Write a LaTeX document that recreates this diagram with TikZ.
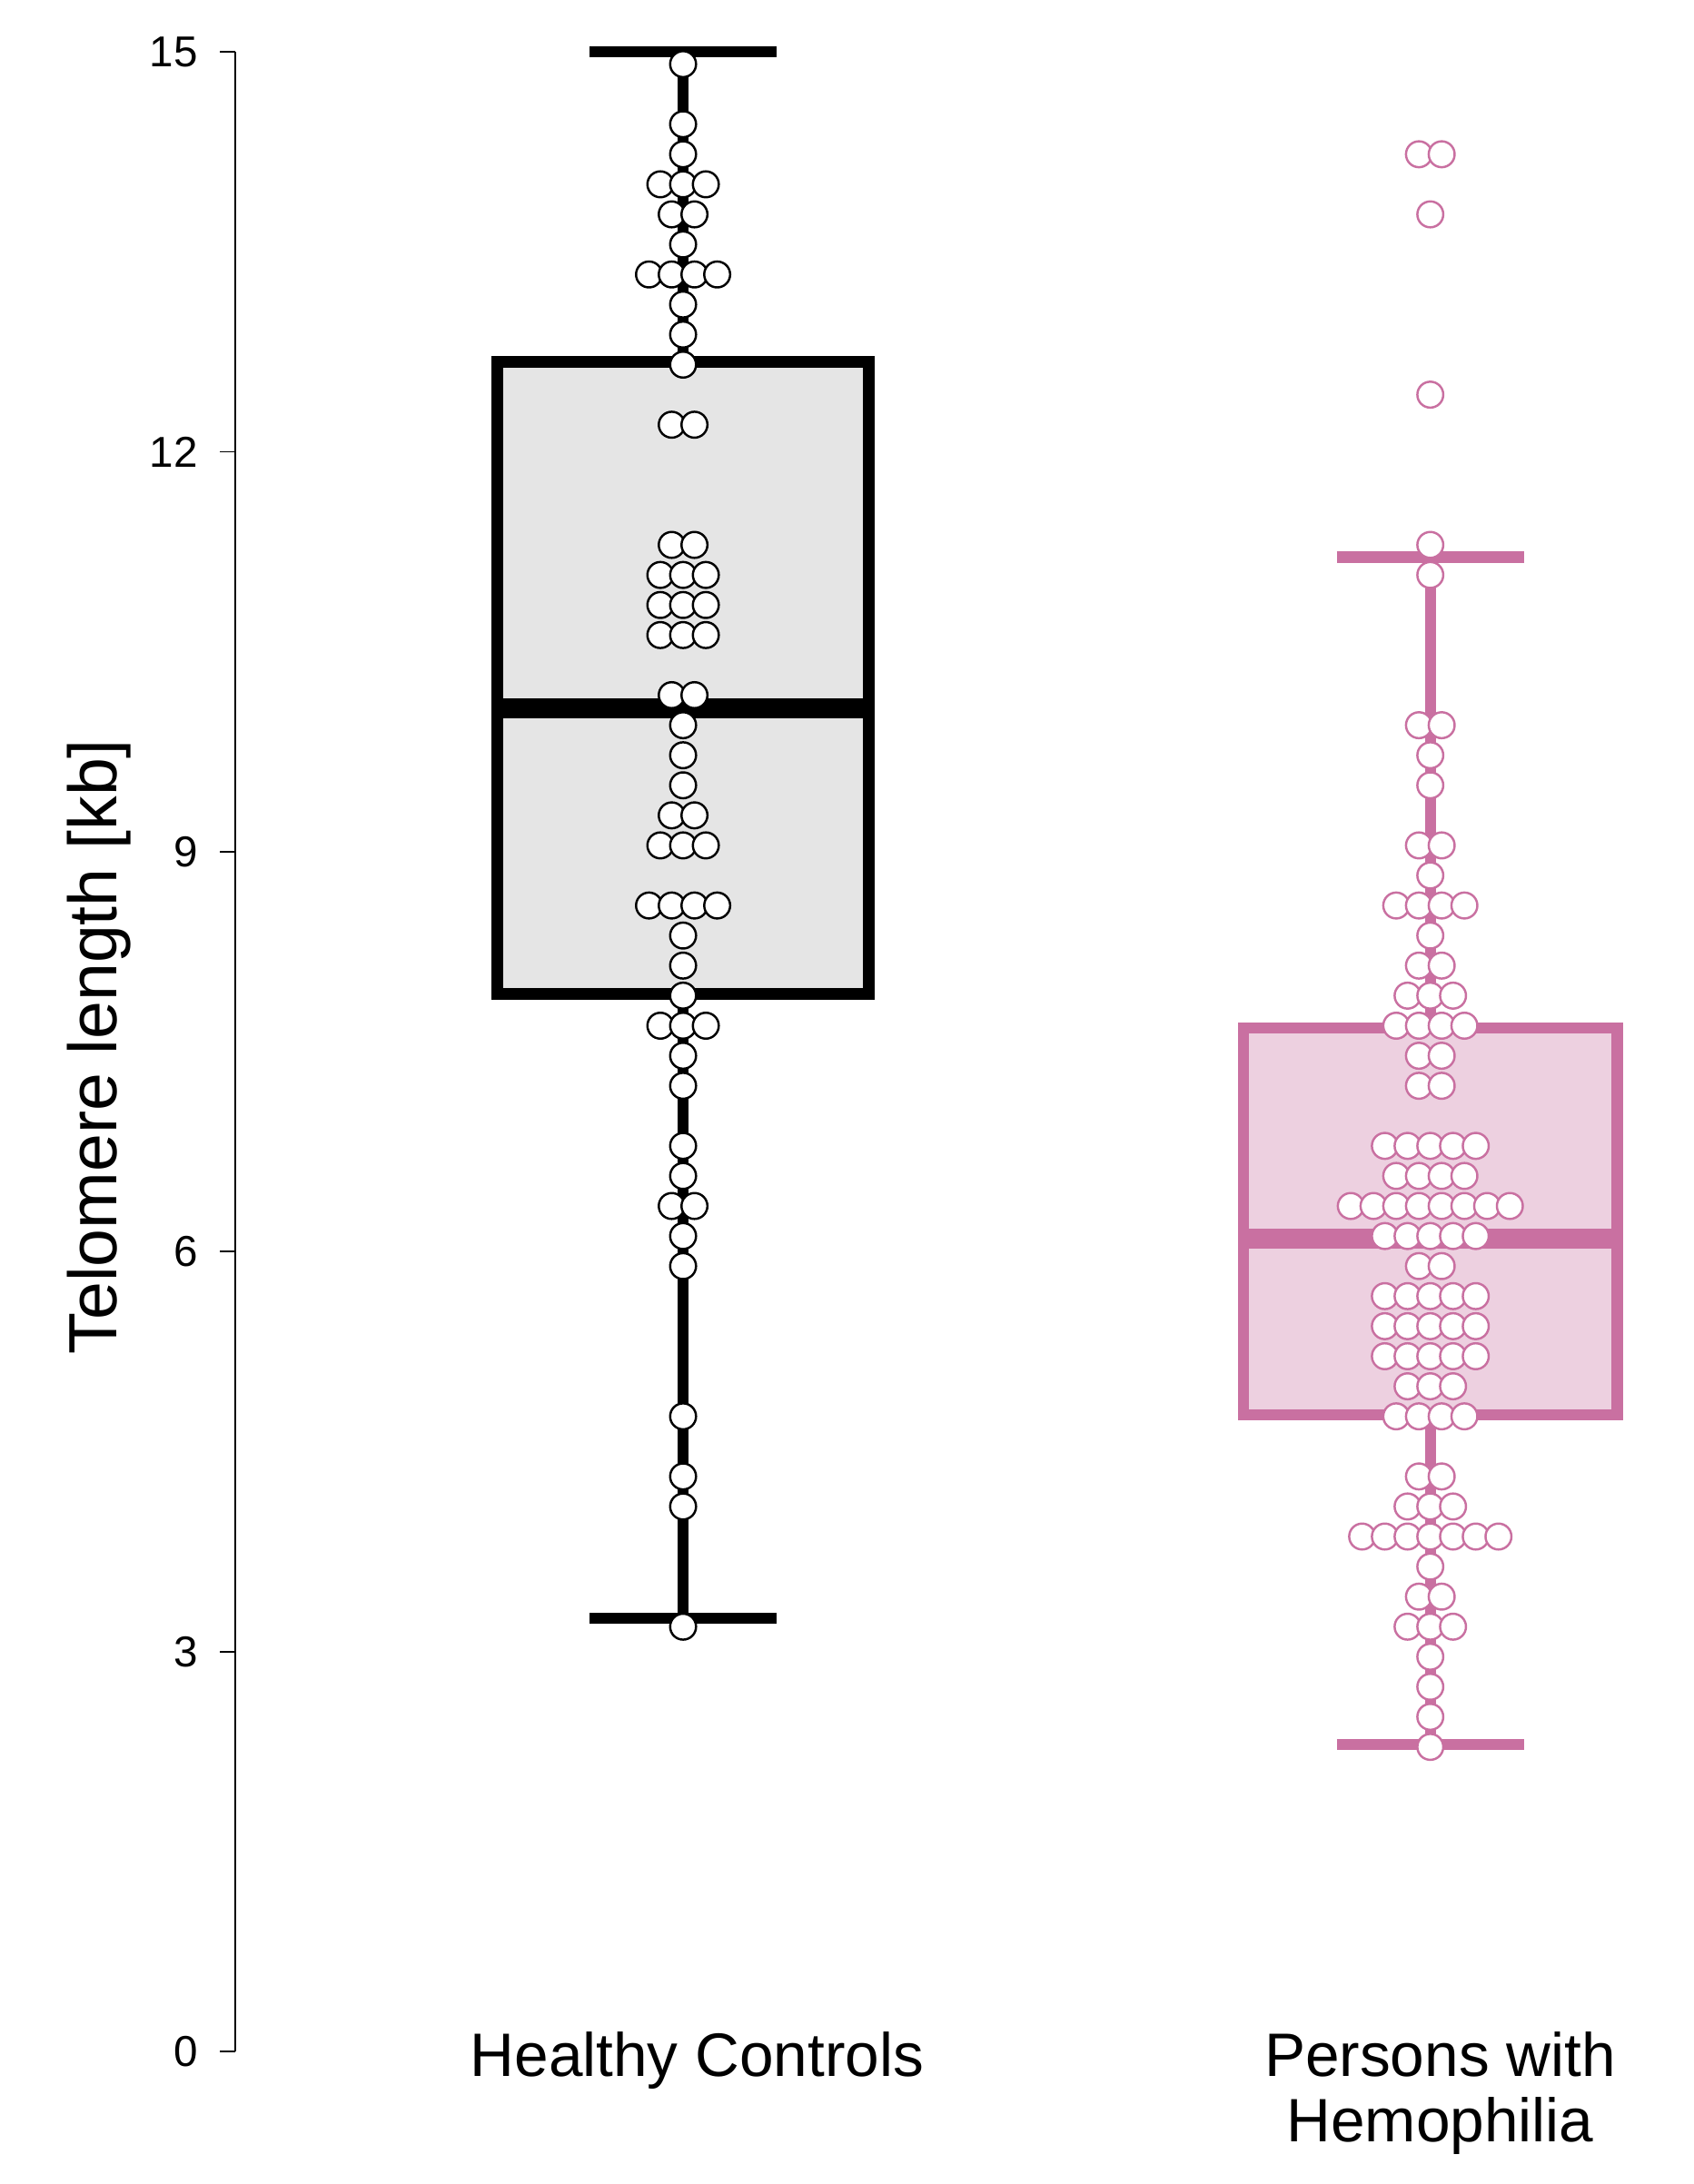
\documentclass[tikz,border=0pt]{standalone}
\usepackage{fontspec}
\setmainfont{Liberation Sans}
\definecolor{pk}{RGB}{201,112,161}
\definecolor{pkfill}{RGB}{237,208,224}
\definecolor{gfill}{RGB}{229,229,229}
\tikzset{
  axisline/.style={line width=1.2pt, draw=black},
  ticklab/.style={inner sep=0pt, font=\fontsize{31}{36}\selectfont},
  catlab/.style={inner sep=0pt, font=\fontsize{44}{50}\selectfont},
  ytitle/.style={inner sep=0pt, font=\fontsize{49}{56}\selectfont},
  boxA/.style={line width=8.5pt, draw=black, fill=gfill},
  boxB/.style={line width=8pt, draw=pk, fill=pkfill},
  medA/.style={line width=14.5pt, draw=black},
  medB/.style={line width=14.5pt, draw=pk},
  whiskA/.style={line width=8.3pt, draw=black},
  whiskB/.style={line width=8pt, draw=pk},
  dotA/.style={line width=1.6pt, draw=black, fill=white},
  dotB/.style={line width=1.6pt, draw=pk, fill=white},
}
\begin{document}
\begin{tikzpicture}[x=1pt,y=-1pt]
\useasboundingbox (0,0) rectangle (1215,1567);
\fill[white] (0,0) rectangle (1215,1567);

% axis
\coordinate (axtop) at (168.5,37.2);
\coordinate (axbot) at (168.5,1472);
\draw[axisline] (axtop) -- (axbot);
\foreach \v in {0,3,6,9,12,15} {
  \pgfmathsetmacro\yy{1472-95.653*\v}
  \coordinate (tk\v) at (168.5,\yy);
  \coordinate (tl\v) at (158,\yy);
  \draw[axisline] (tl\v) -- (tk\v);
  \node[ticklab, anchor=east] (lab\v) at (142,\yy) {\v};
}
\node[ytitle, rotate=90, anchor=base] (yt) at (84,751) {Telomere length [kb]};

% group 1 (Healthy Controls)
\coordinate (a1) at (490,37.2);
\coordinate (a2) at (490,259.6);
\coordinate (a3) at (490,713);
\coordinate (a4) at (490,1161);
\draw[boxA] (356.5,259.6) rectangle (623.5,713);
\coordinate (am1) at (356.5,508);
\coordinate (am2) at (623.5,508);
\draw[medA] (am1) -- (am2);
\draw[whiskA] (a1) -- (a2);
\draw[whiskA] (a3) -- (a4);
\coordinate (ac1) at (423,37.2);
\coordinate (ac2) at (557,37.2);
\coordinate (ac3) at (423,1161);
\coordinate (ac4) at (557,1161);
\draw[whiskA] (ac1) -- (ac2);
\draw[whiskA] (ac3) -- (ac4);

\foreach \k/\n in {0/1,2/1,3/1,4/3,5/2,6/1,7/4,8/1,9/1,10/1,12/2,16/2,17/3,18/3,19/3,
  21/2,22/1,23/1,24/1,25/2,26/3,28/4,29/1,30/1,31/1,32/3,33/1,34/1,36/1,37/1,38/2,
  39/1,40/1,45/1,47/1,48/1,52/1} {
  \foreach \i in {1,...,\n} {
    \pgfmathsetmacro\xx{490+(\i-(\n+1)/2)*16.3}
    \pgfmathsetmacro\yy{46+21.56*\k}
    \draw[dotA] (\xx,\yy) circle[radius=9.3pt];
  }
}

% group 2 (Persons with Hemophilia)
\coordinate (b1) at (1026,399.8);
\coordinate (b2) at (1026,737.6);
\coordinate (b3) at (1026,1015);
\coordinate (b4) at (1026,1251.7);
\draw[boxB] (892,737.6) rectangle (1160,1015);
\coordinate (bm1) at (892,888.5);
\coordinate (bm2) at (1160,888.5);
\draw[medB] (bm1) -- (bm2);
\draw[whiskB] (b1) -- (b2);
\draw[whiskB] (b3) -- (b4);
\coordinate (bc1) at (959,399.8);
\coordinate (bc2) at (1093,399.8);
\coordinate (bc3) at (959,1251.7);
\coordinate (bc4) at (1093,1251.7);
\draw[whiskB] (bc1) -- (bc2);
\draw[whiskB] (bc3) -- (bc4);

\foreach \k/\n in {3/2,5/1,11/1,16/1,17/1,22/2,23/1,24/1,26/2,27/1,28/4,29/1,30/2,
  31/3,32/4,33/2,34/2,36/5,37/4,38/8,39/5,40/2,41/5,42/5,43/5,44/3,45/4,47/2,48/3,
  49/7,50/1,51/2,52/3,53/1,54/1,55/1,56/1} {
  \foreach \i in {1,...,\n} {
    \pgfmathsetmacro\xx{1026+(\i-(\n+1)/2)*16.3}
    \pgfmathsetmacro\yy{46+21.56*\k}
    \draw[dotB] (\xx,\yy) circle[radius=9.3pt];
  }
}

% category labels
\node[catlab, anchor=base] (hc) at (500,1490) {Healthy Controls};
\node[catlab, anchor=base] (ph1) at (1033,1490) {Persons with};
\node[catlab, anchor=base] (ph2) at (1033,1537) {Hemophilia};
\end{tikzpicture}
\end{document}
